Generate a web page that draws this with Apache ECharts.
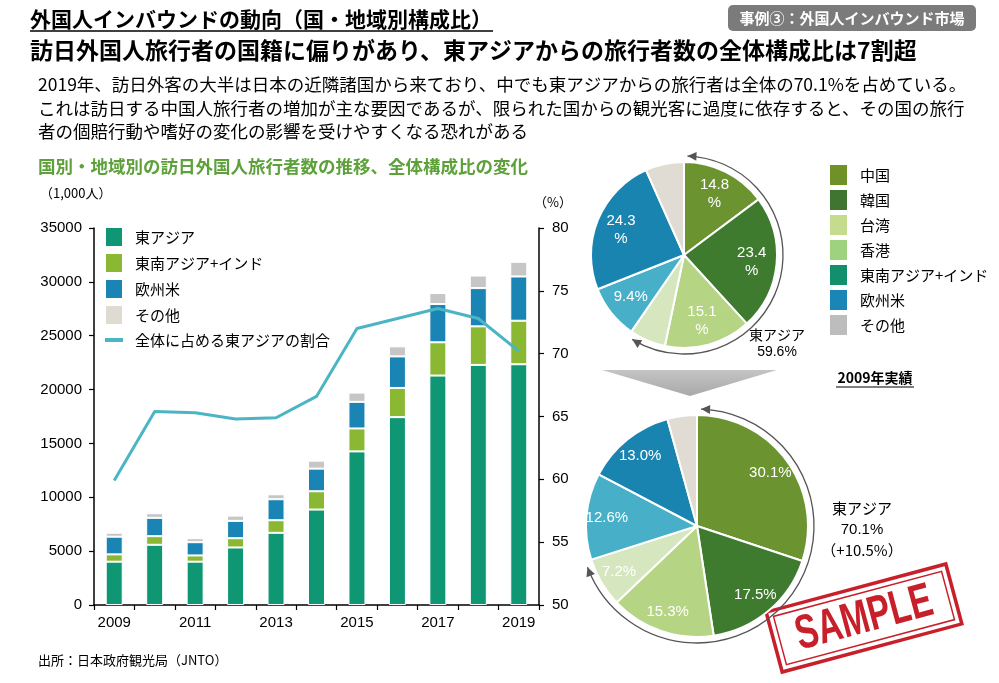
<!DOCTYPE html>
<html><head><meta charset="utf-8">
<script src="https://cdn.jsdelivr.net/npm/echarts@6/dist/echarts.min.js"></script>
<style>html,body{margin:0;padding:0;background:#fff}#c{width:999px;height:683px}</style>
</head><body><div id="c"></div>
<script>
// ---- data ----
const years = ['2009','2010','2011','2012','2013','2014','2015','2016','2017','2018','2019'];
const eastAsia    = [4020, 5590, 4020, 5340, 6700, 8860, 14260, 17440, 21300, 22290, 22350];
const seAsiaIndia = [680, 800, 580, 860, 1170, 1700, 2130, 2710, 3090, 3580, 4040];
const euroAmerica = [1640, 1700, 1230, 1610, 1950, 2100, 2470, 2930, 3550, 3550, 4110];
const others      = [370, 430, 370, 490, 460, 740, 860, 930, 1020, 1170, 1360];
const eastAsiaShare = [59.9, 65.4, 65.3, 64.8, 64.9, 66.6, 72.0, 72.8, 73.6, 72.8, 70.2];
const barNames = ['東アジア','東南アジア+インド','欧州米','その他'];
const lineName = '全体に占める東アジアの割合';
const pieNames = ['中国','韓国','台湾','香港','東南アジア+インド','欧州米','その他'];
const share2009 = [14.8, 23.4, 15.1, 6.3, 9.4, 24.3, 6.7];
const share2019 = [30.1, 17.5, 15.3, 7.2, 12.6, 13.0, 4.3];
const labeled2009 = [true, true, true, false, true, true, false];
const labeled2019 = [true, true, true, true, true, true, false];
const eastAsia2009 = 59.6, eastAsia2019 = 70.1;

// ---- styles ----
const JP = '"Noto Sans CJK JP", sans-serif';
const EN = '"Liberation Sans", Arial, sans-serif';
const barColors = ['#0f9774', '#8ab833', '#1a85b5', '#c6c6c6'];
const barLegendColors = ['#0f9774', '#8ab833', '#1a85b5', '#e0dbd2'];
const lineColor = '#4bb5c5';
const pieColors = ['#6b9430', '#3e7b2f', '#b5d584', '#d6e7bf', '#47b0c8', '#1a84b1', '#e0dbd3'];
const pieLegendColors = ['#6f9128', '#3f7530', '#c5dc8e', '#9fd27f', '#128f6c', '#1a86b8', '#bdbdbd'];

const P1 = {cx: 684, cy: 255, r: 93};
const P2 = {cx: 697, cy: 526, r: 111};

function arrowHead(c, R, thetaDeg, dir) {
  const t = thetaDeg * Math.PI / 180;
  const tip = [c.cx + R * Math.cos(t), c.cy + R * Math.sin(t)];
  const d = [-Math.sin(t) * dir, Math.cos(t) * dir];
  const n = [-d[1], d[0]];
  const L = 9, W = 4.5;
  const b = [tip[0] - d[0] * L, tip[1] - d[1] * L];
  return {type: 'polygon', shape: {points: [tip, [b[0] + n[0] * W, b[1] + n[1] * W], [b[0] - n[0] * W, b[1] - n[1] * W]]},
    style: {fill: '#555'}, z: 20};
}
function arcWithArrows(c, R, share) {
  const start = -88, end = -90 + 360 * share / 100 - 3;
  return [
    {type: 'arc', shape: {cx: c.cx, cy: c.cy, r: R, startAngle: start * Math.PI / 180, endAngle: end * Math.PI / 180, clockwise: true},
      style: {stroke: '#555', fill: null, lineWidth: 1.3}, z: 20},
    arrowHead(c, R, start, -1),
    arrowHead(c, R, end, 1)
  ];
}
function txt(x, y, text, font, fill, align, extra) {
  return Object.assign({type: 'text', x: x, y: y, z: 30,
    style: {text: text, font: font, fill: fill || '#000', align: align || 'left', verticalAlign: 'middle'}}, extra || {});
}

function pieSlices(name, c, vals) {
  return {
    type: 'pie', name: name, center: [c.cx, c.cy], radius: c.r, startAngle: 90, clockwise: true,
    silent: true, animation: false, label: {show: false}, labelLine: {show: false},
    itemStyle: {borderColor: '#fff', borderWidth: 2},
    data: pieNames.map((n, i) => ({name: n, value: vals[i], itemStyle: {color: pieColors[i]}}))
  };
}
function pieLabels(name, c, vals, shown, r0, fmt) {
  return {
    type: 'pie', name: name, center: [c.cx, c.cy], radius: [r0, c.r], startAngle: 90, clockwise: true,
    silent: true, animation: false, labelLine: {show: false},
    itemStyle: {color: 'rgba(0,0,0,0)'},
    label: {show: true, position: 'inside', color: '#fff', fontFamily: EN, fontSize: 15, lineHeight: 18,
      formatter: p => fmt(p.value)},
    data: pieNames.map((n, i) => ({name: n, value: vals[i], label: {show: shown[i]}}))
  };
}

const chart = echarts.init(document.getElementById('c'), null, {renderer: 'canvas'});
const option = {
  animation: false,
  backgroundColor: '#fff',
  grid: {left: 94, right: 460, top: 228, bottom: 78},
  legend: [
    {
      orient: 'vertical', left: 104, top: 226, padding: 0, itemWidth: 18, itemHeight: 20, itemGap: 4,
      selectedMode: false,
      textStyle: {fontFamily: JP, fontSize: 15, lineHeight: 20, color: '#000', padding: [0, 0, 0, 7]},
      data: barNames.map((n, i) => ({name: n, icon: 'rect', itemStyle: {color: barLegendColors[i]}}))
        .concat([{name: lineName, icon: 'path://M0,0H20V4.5H0Z', itemStyle: {color: lineColor}}])
    },
    {
      orient: 'vertical', left: 828, top: 163, padding: 0, itemWidth: 19, itemHeight: 22, itemGap: 1,
      selectedMode: false,
      textStyle: {fontFamily: JP, fontSize: 15, lineHeight: 20, color: '#000', padding: [0, 0, 0, 7]},
      data: pieNames.map((n, i) => ({name: n, icon: 'rect', itemStyle: {color: pieLegendColors[i]}}))
    }
  ],
  xAxis: {
    type: 'category', data: years, boundaryGap: true,
    axisLine: {lineStyle: {color: '#000', width: 1.5}},
    axisTick: {show: true, interval: 0, length: 5, lineStyle: {color: '#000', width: 1.2}},
    axisLabel: {interval: 1, margin: 10, fontFamily: EN, fontSize: 15, color: '#000'}
  },
  yAxis: [
    {type: 'value', min: 0, max: 35000, interval: 5000, splitLine: {show: false},
      axisLine: {show: true, lineStyle: {color: '#000', width: 1.5}},
      axisTick: {show: true, length: 5, lineStyle: {color: '#000', width: 1.2}},
      axisLabel: {margin: 12, fontFamily: EN, fontSize: 15, color: '#000', formatter: v => String(v)}},
    {type: 'value', position: 'right', min: 50, max: 80, interval: 5, splitLine: {show: false},
      axisLine: {show: true, lineStyle: {color: '#000', width: 1.5}},
      axisTick: {show: true, length: 5, lineStyle: {color: '#000', width: 1.2}},
      axisLabel: {margin: 13, fontFamily: EN, fontSize: 15, color: '#000', formatter: v => String(v)}}
  ],
  series: [
    {type: 'bar', name: barNames[0], stack: 'v', barWidth: 17, data: eastAsia, itemStyle: {color: barColors[0], borderColor: '#fff', borderWidth: 1}},
    {type: 'bar', name: barNames[1], stack: 'v', barWidth: 17, data: seAsiaIndia, itemStyle: {color: barColors[1], borderColor: '#fff', borderWidth: 1}},
    {type: 'bar', name: barNames[2], stack: 'v', barWidth: 17, data: euroAmerica, itemStyle: {color: barColors[2], borderColor: '#fff', borderWidth: 1}},
    {type: 'bar', name: barNames[3], stack: 'v', barWidth: 17, data: others, itemStyle: {color: barColors[3], borderColor: '#fff', borderWidth: 1}},
    {type: 'line', name: lineName, yAxisIndex: 1, data: eastAsiaShare, symbol: 'none', z: 5,
      lineStyle: {color: lineColor, width: 3}, itemStyle: {color: lineColor}},
    pieSlices('2009', P1, share2009),
    pieLabels('2009L', P1, share2009, labeled2009, 37, v => v >= 10 ? v.toFixed(1) + '\n%' : v.toFixed(1) + '%'),
    pieSlices('2019', P2, share2019),
    pieLabels('2019L', P2, share2019, labeled2019, 64, v => v.toFixed(1) + '%')
  ],
  graphic: [
    txt(30, 19, '外国人インバウンドの動向（国・地域別構成比）', 'bold 21px ' + JP),
    {type: 'line', shape: {x1: 30, y1: 31, x2: 493, y2: 31}, style: {stroke: '#000', lineWidth: 1.5}},
    {type: 'rect', shape: {x: 728, y: 5, width: 248, height: 26, r: 5}, style: {fill: '#7b7b7b'}},
    txt(852, 18, '事例③：外国人インバウンド市場', 'bold 15px ' + JP, '#fff', 'center'),
    txt(30, 50, '訪日外国人旅行者の国籍に偏りがあり、東アジアからの旅行者数の全体構成比は7割超', 'bold 23px ' + JP),
    txt(38, 84, '2019年、訪日外客の大半は日本の近隣諸国から来ており、中でも東アジアからの旅行者は全体の70.1%を占めている。', '17.5px ' + JP),
    txt(38, 108, 'これは訪日する中国人旅行者の増加が主な要因であるが、限られた国からの観光客に過度に依存すると、その国の旅行', '17.5px ' + JP),
    txt(38, 131, '者の個賠行動や嗜好の変化の影響を受けやすくなる恐れがある', '17.5px ' + JP),
    txt(38, 166, '国別・地域別の訪日外国人旅行者数の推移、全体構成比の変化', 'bold 17.5px ' + JP, '#5ea13b'),
    txt(40, 193, '（1,000人）', '13px ' + JP),
    txt(534, 202, '（%）', '13px ' + JP),
    txt(38, 660, '出所：日本政府観光局（JNTO）', '13px ' + JP),
    txt(777, 335, '東アジア', '14px ' + JP, '#000', 'center'),
    txt(777, 352, eastAsia2009.toFixed(1) + '%', '14px ' + EN, '#000', 'center'),
    txt(875, 378, '2009年実績', 'bold 14px ' + JP, '#000', 'center'),
    {type: 'line', shape: {x1: 836, y1: 387, x2: 914, y2: 387}, style: {stroke: '#000', lineWidth: 1.2}},
    txt(862, 508, '東アジア', '15px ' + JP, '#000', 'center'),
    txt(862, 530, eastAsia2019.toFixed(1) + '%', '15px ' + EN, '#000', 'center'),
    txt(862, 550, '（+' + (eastAsia2019 - eastAsia2009).toFixed(1) + '%）', '15px ' + JP, '#000', 'center'),
    {type: 'polygon', shape: {points: [[602, 370], [777, 370], [690, 396]]},
      style: {fill: new echarts.graphic.LinearGradient(0, 0, 0, 1, [{offset: 0, color: '#c4c4c4'}, {offset: 1, color: '#a9a9a9'}])}},
    ...arcWithArrows(P1, 99, eastAsia2009),
    ...arcWithArrows(P2, 117, eastAsia2019),
    {type: 'group', x: 864, y: 618, rotation: 15 * Math.PI / 180, z: 40, children: [
      {type: 'rect', shape: {x: -93, y: -31, width: 186, height: 62}, style: {fill: null, stroke: '#c8202a', lineWidth: 3.5}},
      {type: 'rect', shape: {x: -87, y: -25, width: 174, height: 50}, style: {fill: null, stroke: '#c8202a', lineWidth: 1.5}},
      {type: 'text', x: 0, y: 1, scaleX: 0.7, style: {text: 'SAMPLE', font: 'bold 48px ' + EN, fill: '#c8202a', align: 'center', verticalAlign: 'middle'}}
    ]}
  ]
};
chart.setOption(option);
</script></body></html>
